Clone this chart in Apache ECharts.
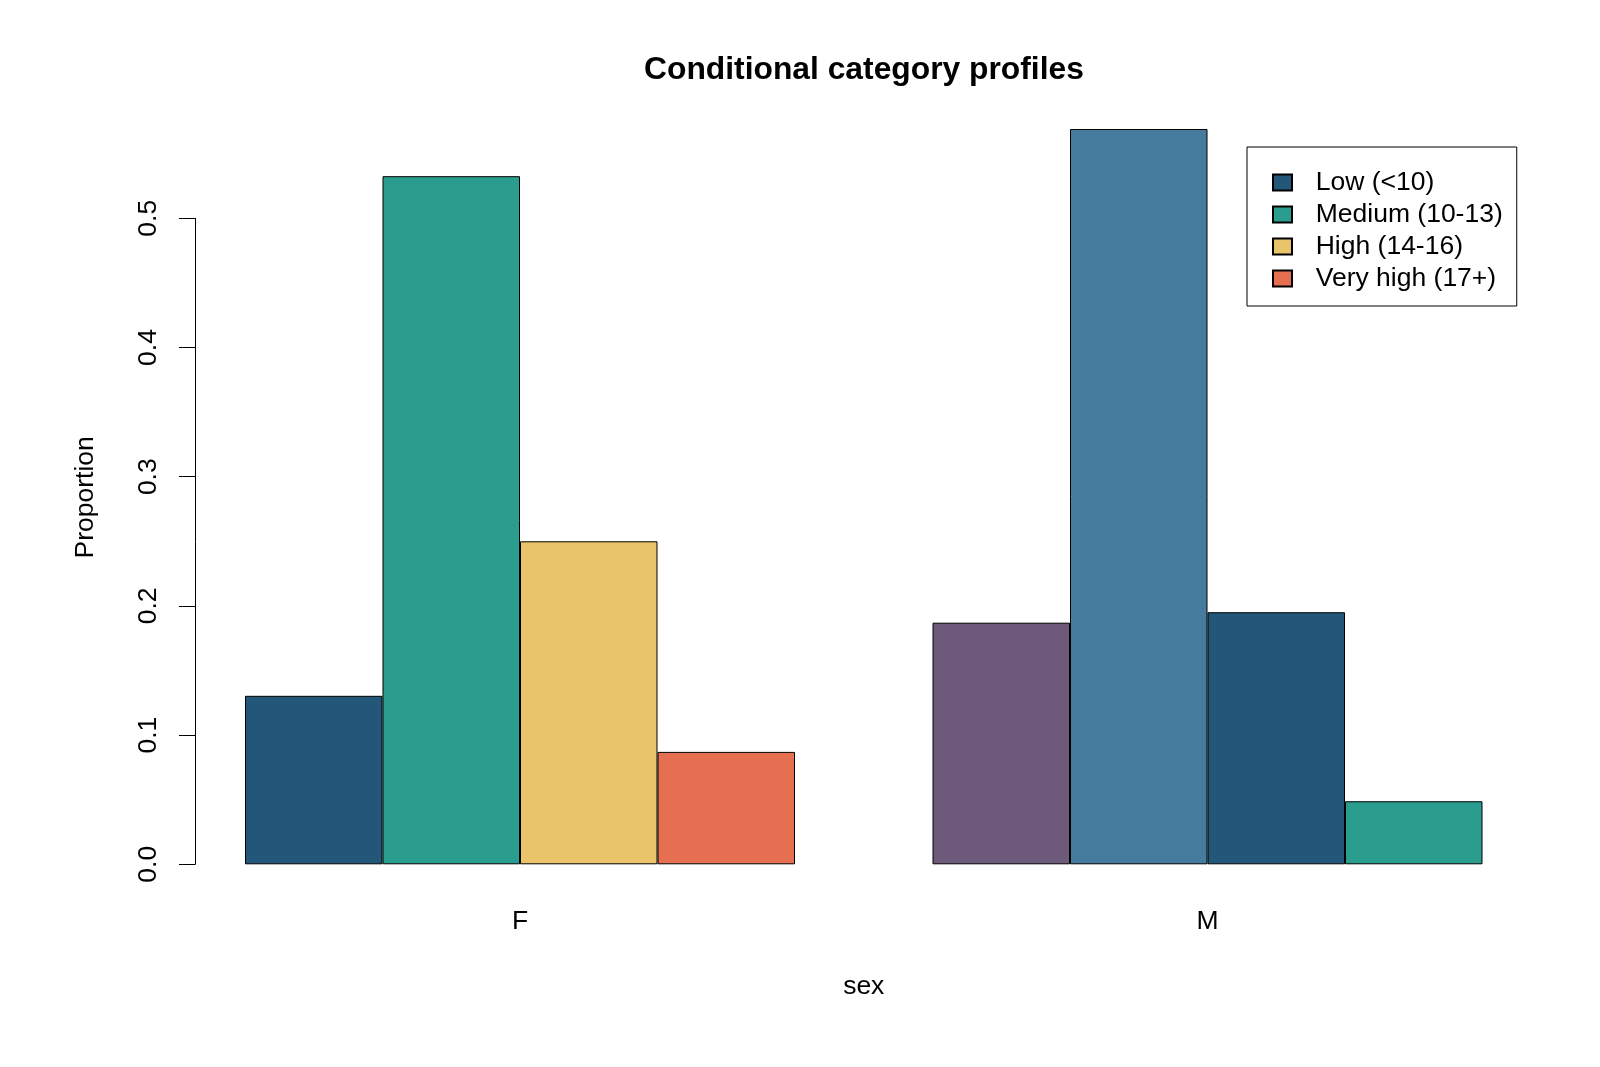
<!DOCTYPE html>
<html>
<head>
<meta charset="utf-8">
<script src="https://cdn.jsdelivr.net/npm/echarts@6/dist/echarts.min.js"></script>
<style>
  html, body { margin: 0; padding: 0; background: #ffffff; }
  #chart { width: 1600px; height: 1067px; }
</style>
</head>
<body>
<div id="chart"></div>
<script>
// ---- data ----
var categories = ['F', 'M'];
var levels = ['Low (<10)', 'Medium (10-13)', 'High (14-16)', 'Very high (17+)'];
var valuesF = [0.1304, 0.5326, 0.2500, 0.0870];
var valuesM = [0.1870, 0.5691, 0.1951, 0.0488];
var yTicks = [0, 0.1, 0.2, 0.3, 0.4, 0.5];
// bar fill colours (recycled across the 8 bars)
var colorsF = ['#22577A', '#2A9D8F', '#E9C46A', '#E76F51'];
var colorsM = ['#6D597A', '#457B9D', '#22577A', '#2A9D8F'];

var FONT = "'Liberation Sans', Arial, sans-serif";
var FS = 26.5;

var series = levels.map(function (name, i) {
  return {
    name: name,
    type: 'bar',
    clip: false,
    barGap: '0%',
    barCategoryGap: '20%',
    itemStyle: { color: colorsF[i], borderColor: '#000000', borderWidth: 1 },
    emphasis: { disabled: true },
    data: [
      { value: valuesF[i] },
      { value: valuesM[i], itemStyle: { color: colorsM[i] } }
    ]
  };
});

var chart = echarts.init(document.getElementById('chart'), null, { renderer: 'canvas' });
chart.setOption({
  backgroundColor: '#ffffff',
  animation: false,
  textStyle: { fontFamily: FONT, color: '#000000' },
  title: {
    text: 'Conditional category profiles',
    left: 644,
    top: 54,
    padding: 0,
    textStyle: { fontFamily: FONT, fontSize: 31.8, fontWeight: 'bold', color: '#000000', lineHeight: 32 }
  },
  legend: {
    data: levels,
    orient: 'vertical',
    left: 1247,
    top: 147,
    padding: [22, 14, 14, 25],
    itemWidth: 19,
    itemHeight: 16,
    itemGap: 5,
    borderColor: '#000000',
    borderWidth: 1,
    selectedMode: false,
    icon: 'rect',
    textStyle: { fontFamily: FONT, fontSize: FS, color: '#000000', lineHeight: 16, padding: [0, 0, 0, 18.7] }
  },
  grid: {
    left: 176.25,
    right: 48.75,
    top: 218.3,
    bottom: 202.7,
    containLabel: false
  },
  xAxis: {
    type: 'category',
    data: categories,
    boundaryGap: true,
    axisLine: { show: false },
    axisTick: { show: false },
    axisLabel: { fontFamily: FONT, fontSize: FS, color: '#000000', margin: 44, lineHeight: 26 },
    name: 'sex',
    nameLocation: 'middle',
    nameGap: 109,
    nameTextStyle: { fontFamily: FONT, fontSize: FS, color: '#000000', lineHeight: 26 }
  },
  yAxis: {
    type: 'value',
    min: yTicks[0],
    max: yTicks[yTicks.length - 1],
    interval: 0.1,
    offset: -18.75,
    splitLine: { show: false },
    axisLine: { show: true, lineStyle: { color: '#000000', width: 1 } },
    axisTick: { show: true, length: 16, lineStyle: { color: '#000000', width: 1 } },
    axisLabel: {
      fontFamily: FONT, fontSize: FS, color: '#000000', rotate: 90, margin: 33, lineHeight: 26,
      formatter: function (v) { return v.toFixed(1); }
    },
    name: 'Proportion',
    nameLocation: 'middle',
    nameGap: 96,
    nameRotate: 90,
    nameTextStyle: { fontFamily: FONT, fontSize: FS, color: '#000000', lineHeight: 26, padding: [0, 0, 0, 88] }
  },
  series: series
});
</script>
</body>
</html>
